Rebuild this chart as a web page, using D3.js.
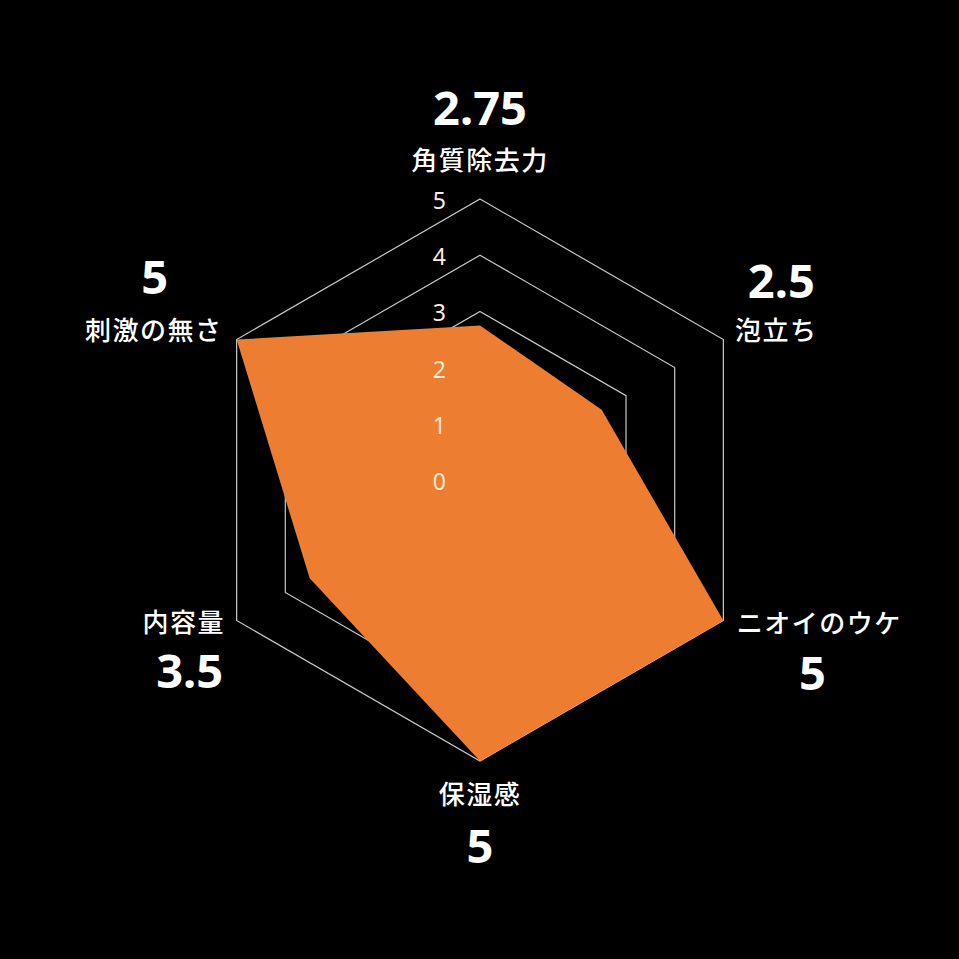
<!DOCTYPE html>
<html>
<head>
<meta charset="utf-8">
<script src="https://cdn.jsdelivr.net/npm/d3@7"></script>
<style>
  html, body { margin: 0; padding: 0; background: #000; }
  svg { display: block; }
</style>
</head>
<body>
<svg id="radar" width="959" height="959"></svg>
<script>
// data
var categories = ["角質除去力", "泡立ち", "ニオイのウケ", "保湿感", "内容量", "刺激の無さ"];
var scores = [2.75, 2.5, 5, 5, 3.5, 5];
var valueLabels = ["2.75", "2.5", "5", "5", "3.5", "5"];
var ticks = [0, 1, 2, 3, 4, 5];

var W = 959, H = 959;
var cx = 480, cy = 480, R = 281;

// label offsets from each outer vertex: [catDx, catDy, valDx, valDy]
var labelOffsets = [
  [0, -38, 0, -91],
  [53, -9, 58, -58],
  [96, 3, 89, 53],
  [0, 34, 0, 85],
  [-53, 2, -47, 51],
  [-83, -9, -82, -62]
];

var svg = d3.select("svg#radar");
svg.append("rect").attr("width", W).attr("height", H).attr("fill", "#000");

var r = d3.scaleLinear().domain([0, 5]).range([0, R]);
var angle = d3.scaleLinear().domain([0, categories.length]).range([0, 2 * Math.PI]);

function pt(i, v) {
  var a = angle(i);
  return [cx + r(v) * Math.sin(a), cy - r(v) * Math.cos(a)];
}

var g = svg.append("g");

// grid rings
g.selectAll("polygon.ring")
  .data(ticks.filter(d => d > 0))
  .enter()
  .append("polygon")
  .attr("class", "ring")
  .attr("points", d => categories.map((c, i) => pt(i, d).join(",")).join(" "))
  .attr("fill", "none")
  .attr("stroke", "#c8c8c8")
  .attr("stroke-width", 1.2);

// data polygon
g.append("polygon")
  .attr("points", scores.map((v, i) => pt(i, v).join(",")).join(" "))
  .attr("fill", "#ED7D31");

// tick labels
g.selectAll("text.tick")
  .data(ticks)
  .enter()
  .append("text")
  .attr("class", "tick")
  .attr("x", cx - 34)
  .attr("y", d => cy - r(d) + 2)
  .attr("dy", "0.35em")
  .attr("text-anchor", "end")
  .attr("fill", "#FFEADB")
  .style("font-family", "'Noto Sans', 'Noto Sans CJK JP', sans-serif")
  .style("font-size", "23px")
  .text(d => d);

// category labels
g.selectAll("text.cat")
  .data(categories)
  .enter()
  .append("text")
  .attr("class", "cat")
  .attr("x", (d, i) => pt(i, 5)[0] + labelOffsets[i][0])
  .attr("y", (d, i) => pt(i, 5)[1] + labelOffsets[i][1])
  .attr("dy", "0.36em")
  .attr("text-anchor", "middle")
  .attr("fill", "#fff")
  .style("font-family", "'Noto Sans CJK JP', sans-serif")
  .style("font-weight", "500")
  .style("font-size", "26px")
  .style("letter-spacing", "1.5px")
  .text(d => d);

// value labels
g.selectAll("text.val")
  .data(valueLabels)
  .enter()
  .append("text")
  .attr("class", "val")
  .attr("x", (d, i) => pt(i, 5)[0] + labelOffsets[i][2])
  .attr("y", (d, i) => pt(i, 5)[1] + labelOffsets[i][3])
  .attr("dy", "0.36em")
  .attr("text-anchor", "middle")
  .attr("fill", "#fff")
  .style("font-family", "'Noto Sans', 'Noto Sans CJK JP', sans-serif")
  .style("font-weight", "700")
  .style("font-size", "47px")
  .text(d => d);
</script>
</body>
</html>
